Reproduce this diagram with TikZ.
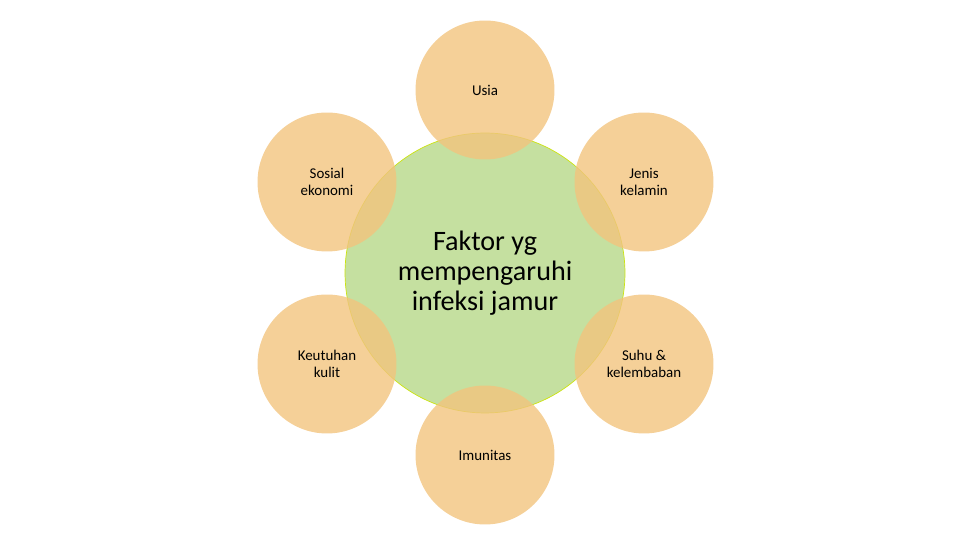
\documentclass[tikz,border=0pt]{standalone}
\usepackage{fontspec}
\setmainfont{Carlito}
\usetikzlibrary{positioning}
\definecolor{faktor}{HTML}{C5E0A0}
\definecolor{oranye}{HTML}{F2C47E}
\tikzset{
	pusat/.style={circle, minimum size=5.6cm, fill=faktor, draw=yellow!80!green, align=center, font=\fontsize{16}{17}\selectfont},
	luar/.style={circle, minimum size=2.78cm, fill=oranye, fill opacity=0.8, text opacity=1, draw=none, align=center, font=\fontsize{8.5}{10}\selectfont}
}
\begin{document}
\begin{tikzpicture}[x=0.02cm,y=0.02cm]
	
	\useasboundingbox (0,0) rectangle (960,540);
	
	\node[pusat] (faktor) at (485,267) {Faktor yg\\mempengaruhi\\infeksi jamur};
	
	\node[luar] (usia) at (485,450) {Usia};
	\node[luar] (jenis) at (644,358) {Jenis\\kelamin};
	\node[luar] (suhu) at (644,176) {Suhu \&\\kelembaban};
	\node[luar] (imun) at (485,85) {Imunitas};
	\node[luar] (kulit) at (327,176) {Keutuhan\\kulit};
	\node[luar] (sosial) at (327,358) {Sosial\\ekonomi};
	
\end{tikzpicture}
\end{document}
